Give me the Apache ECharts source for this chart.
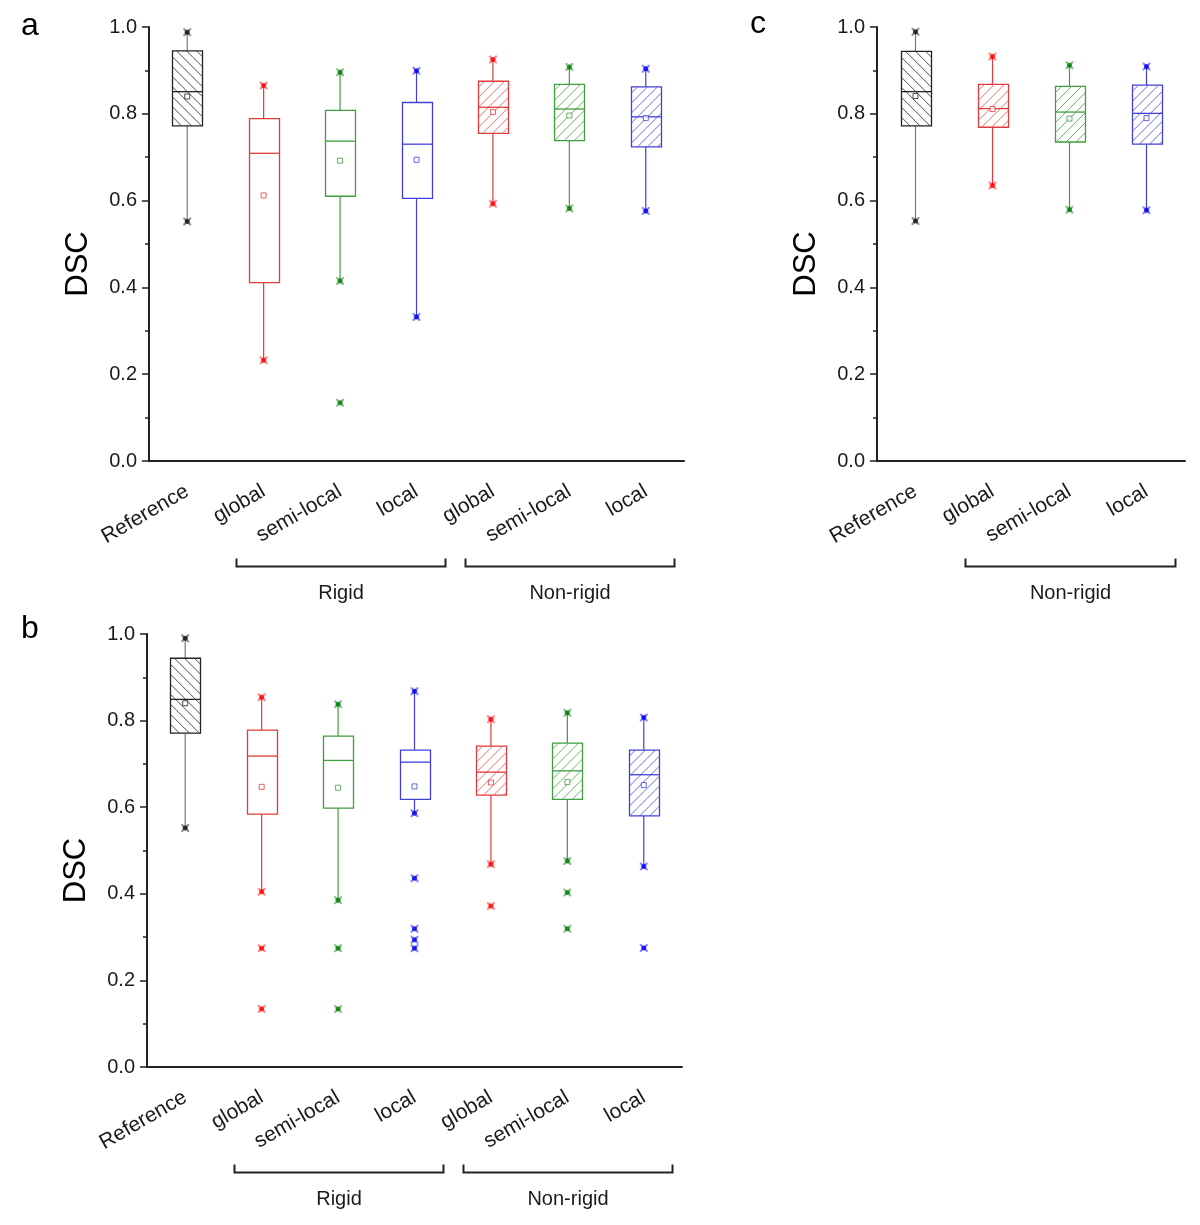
<!DOCTYPE html>
<html><head><meta charset="utf-8">
<script src="https://cdn.jsdelivr.net/npm/echarts/dist/echarts.min.js"></script>
<style>html,body{margin:0;padding:0;background:#fff}#c{width:1200px;height:1225px}</style>
</head><body><div id="c"></div>
<script>
// ---------------- DATA ----------------
const catsAB = ['Reference','global','semi-local','local','global','semi-local','local'];
const catsC = ['Reference','global','semi-local','local'];
const groupNamesAB = ['Rigid','Non-rigid'];
const groupNamesC = ['Non-rigid'];

// panel a
const aLow  = [0.552, 0.232, 0.415, 0.332, 0.593, 0.582, 0.576];
const aQ1   = [0.772, 0.411, 0.610, 0.605, 0.755, 0.738, 0.724];
const aMed  = [0.851, 0.709, 0.737, 0.730, 0.815, 0.811, 0.793];
const aQ3   = [0.945, 0.789, 0.808, 0.826, 0.875, 0.868, 0.862];
const aHigh = [0.988, 0.865, 0.896, 0.899, 0.925, 0.908, 0.904];
const aMean = [0.840, 0.612, 0.692, 0.694, 0.804, 0.796, 0.790];
const aOutCat = [2];
const aOutVal = [0.134];

// panel b
const bLow  = [0.552, 0.405, 0.385, 0.586, 0.468, 0.476, 0.463];
const bQ1   = [0.771, 0.584, 0.598, 0.618, 0.628, 0.618, 0.580];
const bMed  = [0.849, 0.718, 0.708, 0.704, 0.681, 0.684, 0.675];
const bQ3   = [0.944, 0.778, 0.764, 0.732, 0.741, 0.748, 0.732];
const bHigh = [0.990, 0.854, 0.838, 0.868, 0.803, 0.818, 0.807];
const bMean = [0.840, 0.647, 0.645, 0.648, 0.657, 0.658, 0.651];
const bOutCat = [1, 1, 2, 2, 3, 3, 3, 3, 4, 5, 5, 6];
const bOutVal = [0.274, 0.134, 0.274, 0.134, 0.436, 0.319, 0.294, 0.274, 0.372, 0.403, 0.319, 0.275];

// panel c
const cLow  = [0.553, 0.635, 0.579, 0.578];
const cQ1   = [0.772, 0.769, 0.735, 0.730];
const cMed  = [0.851, 0.812, 0.804, 0.801];
const cQ3   = [0.944, 0.868, 0.863, 0.866];
const cHigh = [0.989, 0.932, 0.912, 0.909];
const cMean = [0.841, 0.811, 0.789, 0.790];
const cOutCat = [];
const cOutVal = [];

// ---------------- STYLE ----------------
const FONT = '"Liberation Sans", Arial, Helvetica, sans-serif';
const TXT = '#1a1a1a';
const pal = {
  k: {line:'#222222', hatch:'#3a3a3a', whisk:'#7a7a7a', mark:'#111111'},
  r: {line:'#e23a3a', hatch:'#e86060', whisk:'#e23a3a', mark:'#ff0000'},
  g: {line:'#3f9e3f', hatch:'#5aaa5a', whisk:'#3f9e3f', mark:'#007a00'},
  b: {line:'#4040d8', hatch:'#5a5ad8', whisk:'#4040d8', mark:'#0000ee'}
};
const keysAB = ['k','r','g','b','r','g','b'];
const hatchAB = ['\\','','','','/','/','/'];
const keysC = ['k','r','g','b'];
const hatchC = ['\\','/','/','/'];

function boxData(lo,q1,md,q3,hi){ return lo.map((v,i)=>[i,v,q1[i],md[i],q3[i],hi[i]]); }
function meanData(vals, keys){
  return vals.map((v,i)=>({value:[i,v], itemStyle:{color:'#fff', borderColor:pal[keys[i]].line, borderWidth:1}}));
}
function endData(lo,hi,oc,ov){
  const d=[]; lo.forEach((v,i)=>{d.push([i,v]); d.push([i,hi[i]]);});
  oc.forEach((c,j)=>d.push([c,ov[j]])); return d;
}

function makeRender(keys, hatch){
  return function(params, api){
    const idx = api.value(0);
    const x = api.coord([idx, 0])[0];
    const yLo = api.coord([idx, api.value(1)])[1];
    const yQ1 = api.coord([idx, api.value(2)])[1];
    const yMd = api.coord([idx, api.value(3)])[1];
    const yQ3 = api.coord([idx, api.value(4)])[1];
    const yHi = api.coord([idx, api.value(5)])[1];
    const band = api.size([1,0])[0];
    const w = Math.round(band*0.39);
    const x0 = Math.round(x - w/2)+0.5, x1 = x0 + w;
    const p = pal[keys[idx]];
    const ch = [];
    ch.push({type:'line', shape:{x1:x,y1:yQ1,x2:x,y2:yLo}, style:{stroke:p.whisk,lineWidth:1.2}});
    ch.push({type:'line', shape:{x1:x,y1:yQ3,x2:x,y2:yHi}, style:{stroke:p.whisk,lineWidth:1.2}});
    ch.push({type:'rect', shape:{x:x0,y:yQ3,width:w,height:yQ1-yQ3}, style:{fill:'#fff',stroke:p.line,lineWidth:1.3}});
    const h = hatch[idx];
    const step = 10, top = yQ3, bot = yQ1;
    if (h === '/') {
      for (let c = x0 + top + step*0.6; c < x1 + bot; c += step) {
        const xa = Math.max(x0, c - bot), xb = Math.min(x1, c - top);
        if (xb - xa > 0.5) ch.push({type:'line', shape:{x1:xa,y1:c-xa,x2:xb,y2:c-xb}, style:{stroke:p.hatch,lineWidth:0.9}});
      }
    } else if (h === '\\') {
      for (let c = top - x1 + step*0.6; c < bot - x0; c += step) {
        const xa = Math.max(x0, top - c), xb = Math.min(x1, bot - c);
        if (xb - xa > 0.5) ch.push({type:'line', shape:{x1:xa,y1:xa+c,x2:xb,y2:xb+c}, style:{stroke:p.hatch,lineWidth:0.9}});
      }
    }
    ch.push({type:'line', shape:{x1:x0,y1:yMd,x2:x1,y2:yMd}, style:{stroke:p.line,lineWidth:1.3}});
    return {type:'group', children:ch};
  };
}

const XPATH = 'path://M0,0 L2,0 L5,3 L8,0 L10,0 L10,2 L7,5 L10,8 L10,10 L8,10 L5,7 L2,10 L0,10 L0,8 L3,5 L0,2Z';

function panelSeries(gi, keys, hatch, lo,q1,md,q3,hi,mean,oc,ov){
  const colorFn = prm => pal[keys[prm.value[0]]].mark;
  return [
    {type:'custom', xAxisIndex:gi, yAxisIndex:gi, renderItem:makeRender(keys,hatch),
     encode:{x:0,y:[1,2,3,4,5]}, data:boxData(lo,q1,md,q3,hi), z:2, silent:true},
    {type:'scatter', xAxisIndex:gi, yAxisIndex:gi, symbol:XPATH, symbolSize:8,
     itemStyle:{color:colorFn, opacity:0.45}, data:endData(lo,hi,oc,ov), z:3, silent:true},
    {type:'scatter', xAxisIndex:gi, yAxisIndex:gi, symbol:'circle', symbolSize:5,
     itemStyle:{color:colorFn}, data:endData(lo,hi,oc,ov), z:4, silent:true},
    {type:'scatter', xAxisIndex:gi, yAxisIndex:gi, symbol:'rect', symbolSize:5,
     data:meanData(mean, keys), z:5, silent:true}
  ];
}

function xAxisCfg(gi, cats){
  return {type:'category', gridIndex:gi, data:cats, boundaryGap:true,
    axisLine:{lineStyle:{color:'#222',width:2}},
    axisTick:{alignWithLabel:true,length:8,lineStyle:{color:'#222',width:2}},
    axisLabel:{rotate:30,margin:29,fontSize:21,color:TXT,fontFamily:FONT,interval:0}};
}
function yAxisCfg(gi){
  return {type:'value', gridIndex:gi, min:0, max:1, interval:0.2,
    axisLine:{show:true,lineStyle:{color:'#222',width:2}},
    axisTick:{show:true,length:7,lineStyle:{color:'#222',width:1.5}},
    minorTick:{show:true,splitNumber:2,length:4,lineStyle:{color:'#222',width:1.5}},
    splitLine:{show:false},
    axisLabel:{formatter:v=>v.toFixed(1),fontSize:20,color:TXT,fontFamily:FONT,margin:12}};
}

const chart = echarts.init(document.getElementById('c'));
const option = {
  animation:false,
  backgroundColor:'#fff',
  grid:[
    {left:149, top:27, width:535, height:434},
    {left:147, top:634, width:535, height:433},
    {left:877, top:27, width:308, height:434}
  ],
  xAxis:[xAxisCfg(0,catsAB), xAxisCfg(1,catsAB), xAxisCfg(2,catsC)],
  yAxis:[yAxisCfg(0), yAxisCfg(1), yAxisCfg(2)],
  series:[].concat(
    panelSeries(0, keysAB, hatchAB, aLow,aQ1,aMed,aQ3,aHigh,aMean,aOutCat,aOutVal),
    panelSeries(1, keysAB, hatchAB, bLow,bQ1,bMed,bQ3,bHigh,bMean,bOutCat,bOutVal),
    panelSeries(2, keysC, hatchC, cLow,cQ1,cMed,cQ3,cHigh,cMean,cOutCat,cOutVal)
  )
};
chart.setOption(option);

// decorations: brackets, group names, DSC titles, panel letters
const gfx = [];
function px(ai, idx){ return chart.convertToPixel({xAxisIndex:ai}, idx); }
function py(ai, v){ return chart.convertToPixel({yAxisIndex:ai}, v); }
function addBracket(ai, i0, i1, name){
  const l = Math.round(px(ai,i0)) - 28 + 0.5, r = Math.round(px(ai,i1)) + 28 + 0.5;
  const yb = Math.round(py(ai,0)) + 105 + 0.5;
  gfx.push({type:'polyline', shape:{points:[[l,yb-8],[l,yb],[r,yb],[r,yb-8]]},
    style:{stroke:'#222',lineWidth:2,fill:null}});
  gfx.push({type:'text', x:(l+r)/2, y:yb+27, style:{text:name,font:'20px '+FONT,fill:TXT,
    textAlign:'center',textVerticalAlign:'middle'}});
}
function addTitle(ai){
  const x0 = px(ai,0) - (px(ai,1)-px(ai,0))/2;
  const ym = (py(ai,0)+py(ai,1))/2 + 20;
  gfx.push({type:'text', x:x0-71, y:ym, rotation:Math.PI/2,
    style:{text:'DSC',font:'31px '+FONT,fill:'#000',textAlign:'center',textVerticalAlign:'middle'}});
}
addBracket(0,1,3,groupNamesAB[0]); addBracket(0,4,6,groupNamesAB[1]);
addBracket(1,1,3,groupNamesAB[0]); addBracket(1,4,6,groupNamesAB[1]);
addBracket(2,1,3,groupNamesC[0]);
addTitle(0); addTitle(1); addTitle(2);
const letters = [['a',21,26],['b',21,629],['c',750,24]];
letters.forEach(([t,x,y])=>gfx.push({type:'text',x:x,y:y,style:{text:t,font:'32px '+FONT,fill:'#000',textVerticalAlign:'middle'}}));
chart.setOption({graphic:gfx});
</script>
</body></html>
